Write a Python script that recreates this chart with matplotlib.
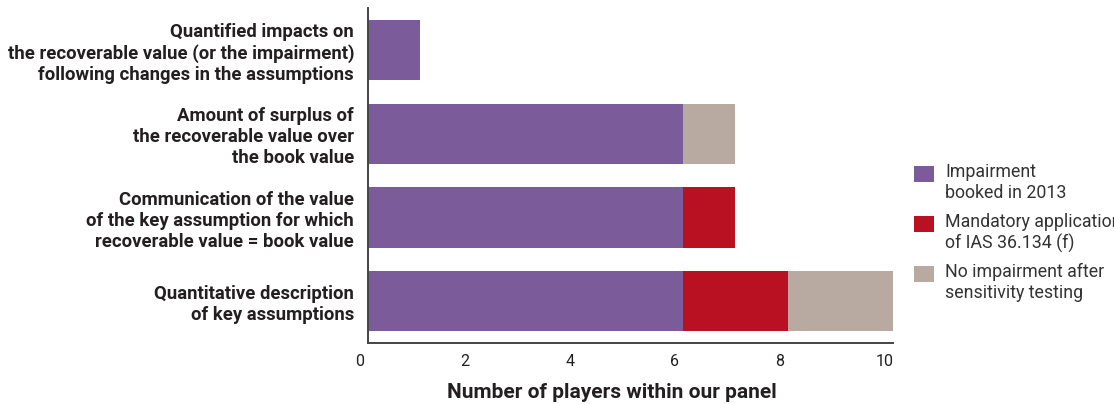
import matplotlib.pyplot as plt
import matplotlib.transforms as mtransforms
from matplotlib.patches import Rectangle

categories = [
    "Quantified impacts on\nthe recoverable value (or the impairment)\nfollowing changes in the assumptions",
    "Amount of surplus of\nthe recoverable value over\nthe book value",
    "Communication of the value\nof the key assumption for which\nrecoverable value = book value",
    "Quantitative description\nof key assumptions",
]
impairment_2013 = [1, 6, 6, 6]
mandatory_ias = [0, 0, 1, 2]
no_impairment = [0, 1, 0, 2]

series_labels = [
    "Impairment\nbooked in 2013",
    "Mandatory application\nof IAS 36.134 (f)",
    "No impairment after\nsensitivity testing",
]
colors = ["#7b5b99", "#ba1122", "#b8aaa1"]
text_color = "#231f20"

plt.rcParams["font.family"] = ["Roboto", "DejaVu Sans"]

W, H = 1114, 404
fig = plt.figure(figsize=(W / 100, H / 100), dpi=100)
ax = fig.add_axes([0.3303, 0.151, 0.4713, 0.829])

y = list(range(len(categories)))
left = [0] * len(categories)
for vals, col in zip([impairment_2013, mandatory_ias, no_impairment], colors):
    ax.barh(y, vals, left=left, height=0.72, color=col, linewidth=0)
    left = [a + b for a, b in zip(left, vals)]

ax.set_xlim(0, 10)
ax.set_ylim(3.5, -0.5)
ax.set_xticks(range(0, 11, 2))
ax.set_yticks(y)
ax.set_yticklabels(categories, fontsize=13.3, fontweight="bold", color=text_color,
                   linespacing=1.2, multialignment="right")
ax.tick_params(axis="x", length=0, labelsize=11.5, labelcolor=text_color, pad=8)
ax.tick_params(axis="y", length=0, pad=10)

# numbers sit a little left of their data position
shift = mtransforms.ScaledTranslation(-8 / 100, 0, fig.dpi_scale_trans)
for lbl in ax.get_xticklabels():
    lbl.set_transform(lbl.get_transform() + shift)

for side in ["top", "right"]:
    ax.spines[side].set_visible(False)
for side in ["left", "bottom"]:
    ax.spines[side].set_color("#444444")
    ax.spines[side].set_linewidth(1.4)

ax.set_xlabel("Number of players within our panel", fontsize=15,
              fontweight="bold", color=text_color)
ax.xaxis.set_label_coords(0.465, -0.118)

# legend drawn by hand so each swatch lines up with the first text line
for i, (label, col) in enumerate(zip(series_labels, colors)):
    top = 166 + 50 * i
    fig.patches.append(Rectangle((914 / W, 1 - (top + 16) / H), 20 / W, 16 / H,
                                 transform=fig.transFigure, facecolor=col,
                                 edgecolor="none"))
    fig.text(945 / W, 1 - (top - 3) / H, label, fontsize=12.8, color="#333333",
             va="top", ha="left", linespacing=1.2)

fig.savefig("out.png", dpi=100)
